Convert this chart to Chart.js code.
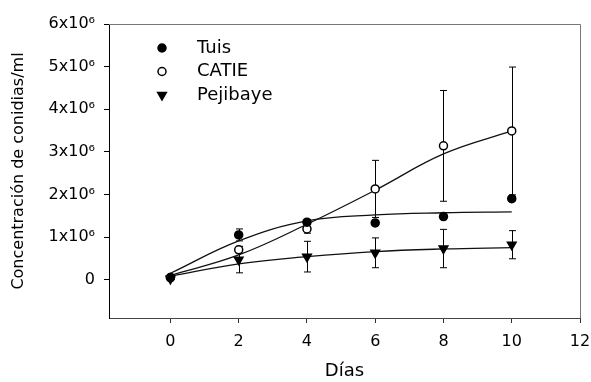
<!DOCTYPE html>
<html>
<head>
<meta charset="utf-8">
<script src="https://cdn.jsdelivr.net/npm/chart.js@4.4.1/dist/chart.umd.min.js"></script>
<style>
  html, body { margin: 0; padding: 0; background: #fff; }
  #wrap { width: 591px; height: 382px; }
</style>
</head>
<body>
<div id="wrap"><canvas id="grafico"></canvas></div>
<script>
// datos
const dias = [0, 2, 4, 6, 8, 10];
const xTicks = [0, 2, 4, 6, 8, 10, 12];
const yTicks = [0, 1e6, 2e6, 3e6, 4e6, 5e6, 6e6];

const tuis = [0.05e6, 1.05e6, 1.35e6, 1.33e6, 1.48e6, 1.9e6];
const tuisErr = [0.03e6, 0.14e6, 0.05e6, 0.05e6, 0.05e6, 0.05e6];
const tuisFit = [0.15e6, 0.91e6, 1.38e6, 1.52e6, 1.57e6, 1.59e6];

const catie = [0.05e6, 0.70e6, 1.19e6, 2.13e6, 3.14e6, 3.49e6];
const catieErr = [0.03e6, 0.08e6, 0.1e6, 0.67e6, 1.3e6, 1.5e6];
const catieFit = [0.10e6, 0.58e6, 1.30e6, 2.10e6, 2.95e6, 3.49e6];

const pejibaye = [0.02e6, 0.47e6, 0.54e6, 0.63e6, 0.73e6, 0.82e6];
const pejibayeErr = [0.02e6, 0.31e6, 0.36e6, 0.35e6, 0.45e6, 0.33e6];
const pejibayeFit = [0.08e6, 0.37e6, 0.54e6, 0.66e6, 0.72e6, 0.75e6];

const FUENTE = "'DejaVu Sans', sans-serif";

function puntos(ys) {
  return dias.map((d, i) => ({ x: d, y: ys[i] }));
}

function serie(label, ys, err, estilo, fondo) {
  return {
    label: label,
    data: puntos(ys),
    errores: err,
    showLine: false,
    pointStyle: estilo,
    pointRotation: estilo === 'triangle' ? 180 : 0,
    pointRadius: estilo === 'triangle' ? 5 : 4,
    pointBackgroundColor: fondo,
    pointBorderColor: '#000',
    pointBorderWidth: 1.5,
    order: 0
  };
}

function curva(ys) {
  return {
    data: puntos(ys),
    showLine: true,
    borderColor: '#111',
    borderWidth: 1.3,
    pointRadius: 0,
    tension: 0.4,
    fill: false,
    order: 1
  };
}

// barras de error
const barrasError = {
  id: 'barrasError',
  beforeDatasetsDraw(chart) {
    const ctx = chart.ctx;
    const xs = chart.scales.x, ys = chart.scales.y;
    ctx.save();
    ctx.strokeStyle = '#000';
    ctx.lineWidth = 1;
    chart.data.datasets.forEach(ds => {
      if (!ds.errores) return;
      ds.data.forEach((p, i) => {
        const e = ds.errores[i];
        const px = Math.round(xs.getPixelForValue(p.x)) + 0.5;
        const top = ys.getPixelForValue(p.y + e);
        const bot = ys.getPixelForValue(p.y - e);
        ctx.beginPath();
        ctx.moveTo(px, top); ctx.lineTo(px, bot);
        ctx.moveTo(px - 3.5, top); ctx.lineTo(px + 3.5, top);
        ctx.moveTo(px - 3.5, bot); ctx.lineTo(px + 3.5, bot);
        ctx.stroke();
      });
    });
    ctx.restore();
  }
};

// marco superior y derecho + leyenda
const marcoLeyenda = {
  id: 'marcoLeyenda',
  afterDraw(chart) {
    const ctx = chart.ctx;
    const a = chart.chartArea;
    ctx.save();
    ctx.strokeStyle = '#777';
    ctx.lineWidth = 1;
    ctx.beginPath();
    ctx.moveTo(a.left, a.top + 0.5); ctx.lineTo(a.right + 0.5, a.top + 0.5);
    ctx.lineTo(a.right + 0.5, a.bottom);
    ctx.stroke();

    let y = 48;
    ctx.font = '18px ' + FUENTE;
    ctx.textBaseline = 'middle';
    chart.data.datasets.forEach(ds => {
      if (!ds.label) return;
      ctx.fillStyle = ds.pointBackgroundColor;
      ctx.strokeStyle = '#000';
      ctx.lineWidth = ds.pointBorderWidth;
      ctx.beginPath();
      if (ds.pointStyle === 'triangle') {
        const r = ds.pointRadius;
        ctx.moveTo(162 - r * 0.866, y - r * 0.5);
        ctx.lineTo(162 + r * 0.866, y - r * 0.5);
        ctx.lineTo(162, y + r);
        ctx.closePath();
      } else {
        ctx.arc(162, y, ds.pointRadius, 0, Math.PI * 2);
      }
      ctx.fill();
      ctx.stroke();
      ctx.fillStyle = '#000';
      ctx.fillText(ds.label, 197, y);
      y += 23.5;
    });
    ctx.restore();
  }
};

const ctx = document.getElementById('grafico');

const grafico = new Chart(ctx, {
  type: 'scatter',
  data: {
    datasets: [
      curva(tuisFit),
      curva(catieFit),
      curva(pejibayeFit),
      serie('Tuis', tuis, tuisErr, 'circle', '#000'),
      serie('CATIE', catie, catieErr, 'circle', '#fff'),
      serie('Pejibaye', pejibaye, pejibayeErr, 'triangle', '#000')
    ]
  },
  options: {
    responsive: true,
    maintainAspectRatio: false,
    animation: false,
    layout: { padding: { top: 24, right: 11, left: 0, bottom: 0 } },
    plugins: {
      legend: { display: false },
      tooltip: { enabled: false }
    },
    scales: {
      x: {
        type: 'linear',
        min: -1.8,
        max: 12,
        afterBuildTicks: s => { s.ticks = xTicks.map(v => ({ value: v })); },
        afterFit: s => { s.height = 64; s.paddingRight = 0; s.paddingLeft = 0; },
        grid: { drawOnChartArea: false, drawTicks: true, tickLength: 5, color: '#333' },
        border: { color: '#444', width: 1 },
        ticks: { color: '#000', padding: 9, font: { family: FUENTE, size: 16 } },
        title: {
          display: true,
          text: 'Días',
          color: '#000',
          padding: { top: 0, bottom: 0 },
          font: { family: FUENTE, size: 18 }
        }
      },
      y: {
        min: -0.9e6,
        max: 6e6,
        afterBuildTicks: s => { s.ticks = yTicks.map(v => ({ value: v })); },
        afterFit: s => { s.width = 109; s.paddingTop = 0; s.paddingBottom = 0; },
        grid: { drawOnChartArea: false, drawTicks: true, tickLength: 5, color: '#000' },
        border: { color: '#000', width: 1 },
        ticks: {
          color: '#000',
          padding: 9,
          font: { family: FUENTE, size: 16 },
          callback: v => v === 0 ? '0' : (v / 1e6) + 'x10\u2076'
        },
        title: {
          display: true,
          text: 'Concentración de conidias/ml',
          color: '#000',
          padding: { top: 9, bottom: 0 },
          font: { family: FUENTE, size: 16 }
        }
      }
    }
  },
  plugins: [barrasError, marcoLeyenda]
});
</script>
</body>
</html>
